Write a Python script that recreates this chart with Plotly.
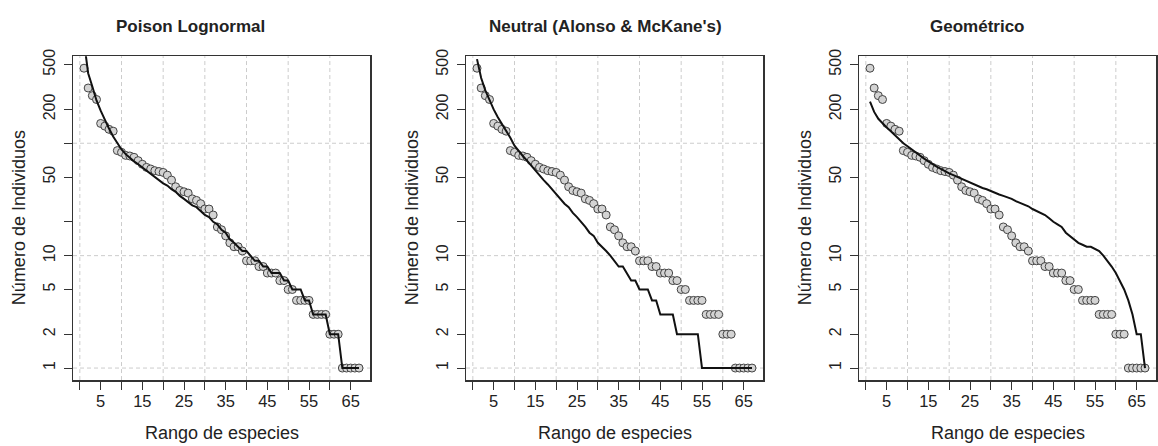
import plotly.graph_objects as go
import numpy as np

# ---------------- data ----------------
ranks = list(range(1, 68))
observed = [465, 310, 265, 245, 150, 142, 133, 128,
            86, 83, 78, 77, 75, 70, 65, 61, 59, 57, 56, 55,
            52, 47, 41, 38, 37, 36, 32, 31, 29, 26, 26, 23,
            18, 17, 15, 13, 12, 12, 11, 9, 9, 9, 8, 8, 7, 7, 7, 6, 6, 5, 5,
            4, 4, 4, 4, 3, 3, 3, 3, 2, 2, 2, 1, 1, 1, 1, 1]

fit_poilog = [800, 420, 320, 240, 195, 160, 135, 115, 100, 88, 80, 74, 69, 65, 61, 57,
              53, 50, 47, 44, 42, 39, 37, 34, 32, 30, 28, 27, 25, 23, 22, 20, 19, 17,
              16, 14, 13, 12, 11, 11, 10, 9, 9, 8, 8, 7, 7, 7, 6, 6, 5, 5, 5, 4, 4,
              3, 3, 3, 3, 2, 2, 2, 1, 1, 1, 1, 1]

fit_neutral = [560, 380, 295, 240, 200, 170, 148, 129, 112, 95, 85, 77, 70, 63, 58, 52,
               47, 43, 39, 35, 32, 29, 27, 24, 22, 20, 18, 16, 15, 13, 12, 11, 10, 9,
               8, 8, 7, 6, 6, 5, 5, 5, 4, 4, 3, 3, 3, 3, 2, 2, 2, 2, 2, 2,
               1, 1, 1, 1, 1, 1, 1, 1, 1, 1, 1, 1, 1]

fit_geom = [235, 190, 165, 150, 138, 128, 118, 108, 100, 94, 88, 83, 77, 73, 69, 65,
            62, 59, 56, 54, 52, 50, 48, 46, 44.5, 43, 41.5, 40, 39, 37.5, 36, 35, 34,
            33, 32, 30.5, 29.5, 28.5, 27.5, 26, 25, 24, 23, 21.5, 20, 19, 18, 16, 15,
            14, 13, 12.5, 12, 12, 11.5, 11, 10, 9, 8, 7, 6, 5, 4, 3, 2, 2, 1]

titles = ["Poison Lognormal", "Neutral (Alonso & McKane's)", "Geométrico"]
fits = [fit_poilog, fit_neutral, fit_geom]

x_tickvals = list(range(0, 70, 5))
x_ticktext = ["", "5", "", "15", "", "25", "", "35", "", "45", "", "55", "", "65"]
y_tickvals = [1, 2, 5, 10, 20, 50, 100, 200, 500]
y_ticktext = ["1", "2", "5", "10", "", "50", "", "200", "500"]
x_grid = [0, 10, 20, 30, 40, 50, 60]
y_grid = [1, 10, 100]

x_label = "Rango de especies"
y_label = "Número de Individuos"

# ---------------- layout geometry ----------------
W, H = 1158, 446
panel_left_px = [73, 466, 859]
panel_width_px = 297
plot_top_px, plot_bottom_px = 50, 379
title_center_px = [190, 605, 977]

xr = [min(ranks), max(ranks)]
xpad = (xr[1] - xr[0]) * 0.04
x_range = [xr[0] - xpad, xr[1] + xpad]
ly = [np.log10(min(observed)), np.log10(max(observed))]
ypad = (ly[1] - ly[0]) * 0.04
y_range = [ly[0] - ypad, ly[1] + ypad]

FONT = "Liberation Sans, Arial, sans-serif"
TXT = "#222222"
fig = go.Figure()

for i in range(3):
    xa = "x" if i == 0 else f"x{i+1}"
    ya = "y" if i == 0 else f"y{i+1}"
    fig.add_trace(go.Scatter(
        x=ranks, y=observed, mode="markers", xaxis=xa, yaxis=ya,
        marker=dict(size=8, color="#d3d3d3", line=dict(color="#444444", width=1)),
        showlegend=False, cliponaxis=False, hoverinfo="skip"))
    fig.add_trace(go.Scatter(
        x=ranks, y=fits[i], mode="lines", xaxis=xa, yaxis=ya,
        line=dict(color="#111111", width=2), showlegend=False, hoverinfo="skip"))

    l = panel_left_px[i]
    dom_x = [l / W, (l + panel_width_px) / W]
    dom_y = [1 - plot_bottom_px / H, 1 - plot_top_px / H]
    xkey = "xaxis" if i == 0 else f"xaxis{i+1}"
    ykey = "yaxis" if i == 0 else f"yaxis{i+1}"
    fig.layout[xkey] = dict(
        domain=dom_x, range=x_range, anchor=ya,
        tickmode="array", tickvals=x_tickvals, ticktext=x_ticktext,
        ticks="outside", ticklen=8, tickwidth=1, tickcolor="#333",
        showline=True, mirror=True, linecolor="#333", linewidth=1.5,
        showgrid=False, zeroline=False, ticklabelstandoff=-2,
        tickfont=dict(family=FONT, size=16.5, color=TXT))
    fig.layout[ykey] = dict(
        domain=dom_y, type="log", range=y_range, anchor=xa,
        tickmode="array", tickvals=y_tickvals, ticktext=y_ticktext,
        ticks="outside", ticklen=8, tickwidth=1, tickcolor="#333",
        showline=True, mirror=True, linecolor="#333", linewidth=1.5,
        showgrid=False, zeroline=False, tickangle=-90, ticklabelstandoff=2,
        tickfont=dict(family=FONT, size=16, color=TXT))

    for gx in x_grid:
        fig.add_shape(type="line", xref=xa, yref=f"{ya} domain", x0=gx, x1=gx, y0=0, y1=1,
                      line=dict(color="#cccccc", width=1, dash="4px,3px"), layer="below")
    for gy in y_grid:
        fig.add_shape(type="line", xref=f"{xa} domain", yref=ya, x0=0, x1=1, y0=gy, y1=gy,
                      line=dict(color="#cccccc", width=1, dash="4px,3px"), layer="below")

    cx = (l + panel_width_px / 2) / W
    fig.add_annotation(text=f"<b>{titles[i]}</b>", xref="paper", yref="paper",
                       x=title_center_px[i] / W, y=1 - 20 / H, xanchor="center", yanchor="middle",
                       showarrow=False, font=dict(family=FONT, size=17, color=TXT))
    fig.add_annotation(text=x_label, xref="paper", yref="paper",
                       x=cx, y=1 - 433 / H, xanchor="center", yanchor="middle",
                       showarrow=False, font=dict(family=FONT, size=18, color=TXT))
    fig.add_annotation(text=y_label, xref="paper", yref="paper", textangle=-90,
                       x=(l - 54) / W, y=1 - (plot_top_px + plot_bottom_px) / 2 / H,
                       xanchor="center", yanchor="middle",
                       showarrow=False, font=dict(family=FONT, size=18, color=TXT))

fig.update_layout(width=W, height=H, margin=dict(l=0, r=0, t=0, b=0),
                  paper_bgcolor="white", plot_bgcolor="white", hovermode=False)
fig.write_html("out.html", config={"displayModeBar": False, "staticPlot": True},
               post_script="document.body.style.margin='0px';document.body.style.padding='0px';"
                           "document.body.style.overflow='hidden';")
